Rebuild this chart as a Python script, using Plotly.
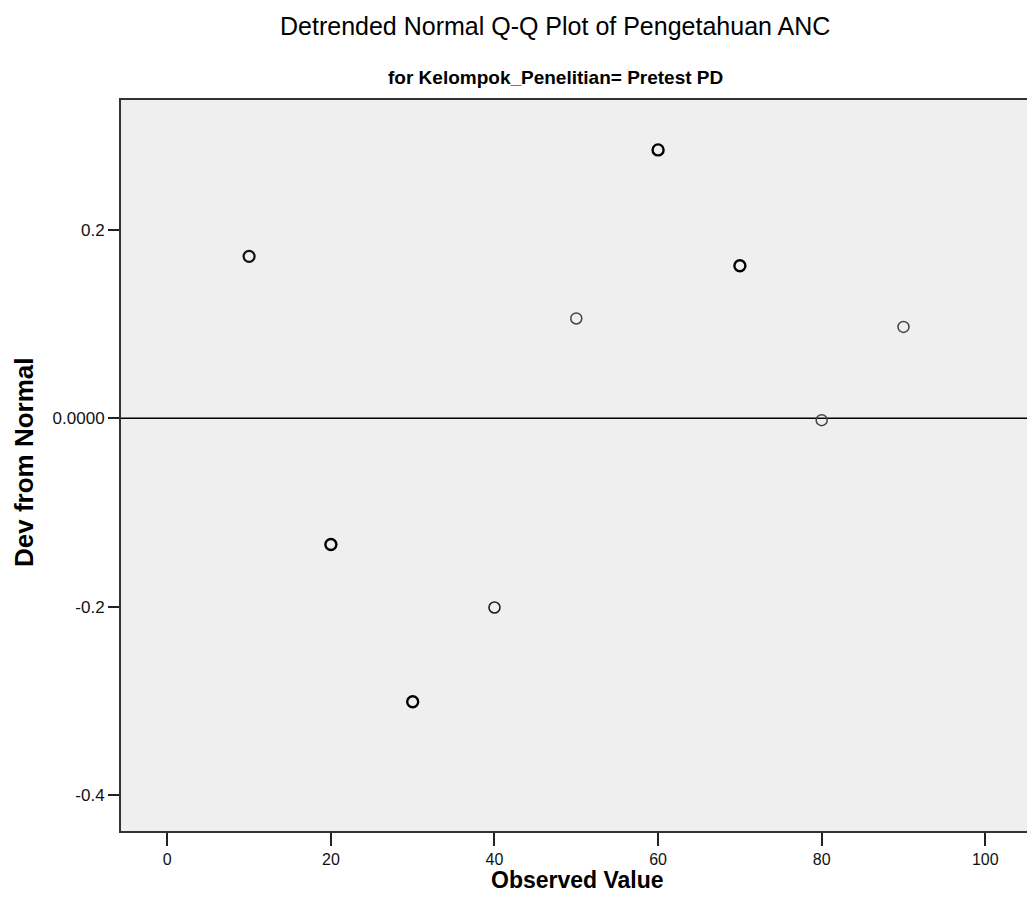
import plotly.graph_objects as go

# ---- data ----
observed_value = [10, 20, 30, 40, 50, 60, 70, 80, 90]
dev_from_normal = [0.172, -0.134, -0.301, -0.201, 0.106, 0.285, 0.162, -0.002, 0.097]
x_tick_values = [0, 20, 40, 60, 80, 100]
y_tick_values = [-0.4, -0.2, 0.0, 0.2]
y_tick_labels = ["-0.4", "-0.2", "0.0000", "0.2"]

# styling: overlapping (tied) cases render darker
marker_line_widths = [2.2, 2.4, 2.4, 1.6, 1.5, 2.4, 2.4, 1.5, 1.5]
marker_line_colors = ["#111", "#000", "#000", "#222", "#444", "#000", "#000", "#444", "#444"]

FONT = "Liberation Sans, Arial, sans-serif"
W, H = 1027, 922
ML, MR, MT, MB = 121, 0, 100, 91

fig = go.Figure()

fig.add_trace(go.Scatter(
    x=observed_value,
    y=dev_from_normal,
    mode="markers",
    marker=dict(
        symbol="circle-open",
        size=11,
        color=marker_line_colors,
        line=dict(width=marker_line_widths, color=marker_line_colors),
    ),
    showlegend=False,
    hoverinfo="x+y",
))

# zero reference line
fig.add_hline(y=0, line=dict(color="#000", width=1.6), layer="below")


def px_to_paper(px, py):
    return (px - ML) / (W - ML - MR), (H - MB - py) / (H - MT - MB)


tx, ty = px_to_paper(555, 26)
sx, sy = px_to_paper(555, 78)
xtx, xty = px_to_paper(577, 880)
ytx, yty = px_to_paper(24, 462)

fig.update_layout(
    width=W,
    height=H,
    paper_bgcolor="white",
    plot_bgcolor="#efefef",
    margin=dict(l=ML, r=MR, t=MT, b=MB),
    font=dict(family=FONT, color="#000", size=17),
    xaxis=dict(
        range=[-5.66, 105.1],
        tickvals=x_tick_values,
        ticktext=[str(v) for v in x_tick_values],
        ticks="outside",
        ticklen=13,
        tickwidth=1.5,
        tickcolor="#222",
        showline=True,
        mirror=True,
        linecolor="#333",
        linewidth=2,
        showgrid=False,
        zeroline=False,
        tickfont=dict(family=FONT, size=16, color="#111"),
    ),
    yaxis=dict(
        range=[-0.4383, 0.338],
        tickvals=y_tick_values,
        ticktext=y_tick_labels,
        ticks="outside",
        ticklen=11,
        tickwidth=1.5,
        tickcolor="#222",
        showline=True,
        mirror=False,
        linecolor="#333",
        linewidth=2,
        showgrid=False,
        zeroline=False,
        tickfont=dict(family=FONT, size=17, color="#111"),
    ),
    annotations=[
        dict(text="Detrended Normal Q-Q Plot of Pengetahuan ANC", x=tx, y=ty, xref="paper", yref="paper",
             xanchor="center", yanchor="middle", showarrow=False,
             font=dict(family=FONT, size=25, color="#000")),
        dict(text="<b>for Kelompok_Penelitian= Pretest PD</b>", x=sx, y=sy, xref="paper", yref="paper",
             xanchor="center", yanchor="middle", showarrow=False,
             font=dict(family=FONT, size=19, color="#000")),
        dict(text="<b>Observed Value</b>", x=xtx, y=xty, xref="paper", yref="paper",
             xanchor="center", yanchor="middle", showarrow=False,
             font=dict(family=FONT, size=23, color="#000")),
        dict(text="<b>Dev from Normal</b>", x=ytx, y=yty, xref="paper", yref="paper",
             xanchor="center", yanchor="middle", showarrow=False, textangle=-90,
             font=dict(family=FONT, size=26, color="#000")),
    ],
)

fig.write_html(
    "out.html",
    config={"displayModeBar": False},
    post_script="document.body.style.margin='0px';document.body.style.overflow='hidden';",
)
